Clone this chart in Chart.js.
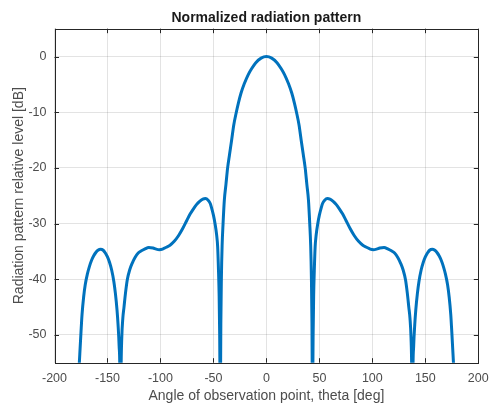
<!DOCTYPE html>
<html>
<head>
<meta charset="utf-8">
<script src="https://cdn.jsdelivr.net/npm/chart.js@4.4.1/dist/chart.umd.min.js"></script>
<style>
  html, body { margin: 0; padding: 0; background: #fff; }
  #wrap { width: 490px; height: 405px; }
</style>
</head>
<body>
<div id="wrap"><canvas id="myChart" width="490" height="405"></canvas></div>
<script>
// values (angle in deg, level in dB)
const thetaDeg = [
  -180, -178.5, -176.5, -175, -174, -172.5, -171, -169, -167, -165, -163, -161, -159, -156.5,
  -154, -152, -150, -148, -146, -144, -142.5, -141, -140, -139, -138.3, -137.8,
  -137.2, -136.5, -135.5, -134.4, -133, -131.3, -129, -126.6, -124, -121, -118, -115,
  -111, -107, -104, -101, -98, -95, -91, -87, -83, -79, -75, -72, -69, -66, -63, -60,
  -57.5, -55, -53, -52, -50, -48.5, -47, -46, -45.2, -44.6, -44.1, -43.8, -43.5,
  -43.2, -43, -42.5, -41.8, -40.9, -39.7, -38.2, -36.6, -34.8, -32.8, -30.8, -28.4, -26.5,
  -24, -20.9, -17, -14, -10, -5, 0,
  5, 10, 14, 17, 20.9, 24,
  26.5, 28.4, 30.8, 32.8, 34.8, 36.6, 38.2, 39.7, 40.9, 41.8, 42.5, 43, 43.2,
  43.5, 43.8, 44.1, 44.6, 45.2, 46, 47, 48.5, 50, 52, 53, 55, 57.5,
  60, 63, 66, 69, 72, 75, 79, 83, 87, 91, 95, 98, 101, 104, 107, 111,
  115, 118, 121, 124, 126.6, 129, 131.3, 133, 134.4, 135.5, 136.5, 137.2,
  137.8, 138.3, 139, 140, 141, 142.5, 144, 146, 148, 150, 152, 154,
  156.5, 159, 161, 163, 165, 167, 169, 171, 172.5, 174, 175, 176.5, 178.5, 180
];
const levelDb = [
  -75, -62, -54.8, -49.5, -46.3, -43.2, -41, -39.1, -37.7, -36.6, -35.8, -35.2, -34.8, -34.6,
  -34.8, -35.3, -36, -37, -38.4, -40.4, -42.6, -45.5, -48.2, -52, -57, -75,
  -57, -50.5, -47, -45, -42.5, -40.1, -38.3, -37.1, -36.1, -35.3, -34.9, -34.6,
  -34.3, -34.4, -34.6, -34.7, -34.6, -34.3, -33.9, -33.2, -32.2, -30.9, -29.4, -28.3, -27.4, -26.6, -26, -25.6,
  -25.5, -25.8, -26.4, -27, -28.5, -30, -32, -34.2, -38.5, -43, -50, -58, -75,
  -55, -48, -40, -34, -30, -25.8, -23, -20, -17.6, -15, -12.3, -10, -8.4,
  -6.6, -4.9, -3.2, -2.2, -1.1, -0.28, 0,
  -0.28, -1.1, -2.2, -3.2, -4.9, -6.6,
  -8.4, -10, -12.3, -15, -17.6, -20, -23, -25.8, -30, -34, -40, -48, -55,
  -75, -58, -50, -43, -38.5, -34.2, -32, -30, -28.5, -27, -26.4, -25.8, -25.5,
  -25.6, -26, -26.6, -27.4, -28.3, -29.4, -30.9, -32.2, -33.2, -33.9, -34.3, -34.6, -34.7, -34.6, -34.4, -34.3,
  -34.6, -34.9, -35.3, -36.1, -37.1, -38.3, -40.1, -42.5, -45, -47, -50.5, -57,
  -75, -57, -52, -48.2, -45.5, -42.6, -40.4, -38.4, -37, -36, -35.3, -34.8,
  -34.6, -34.8, -35.2, -35.8, -36.6, -37.7, -39.1, -41, -43.2, -46.3, -49.5, -54.8, -62, -75
];
const xTicks = [-200, -150, -100, -50, 0, 50, 100, 150, 200];
const yTicks = [-50, -40, -30, -20, -10, 0];

const points = thetaDeg.map((t, i) => ({ x: t, y: levelDb[i] }));

const fontFamily = "'Liberation Sans', Arial, Helvetica, sans-serif";
const axisColor = "#262626";
const textColor = "#4d4d4d";
const gridColor = "rgba(38,38,38,0.13)";

// box around the plot with inward ticks on all four sides (MATLAB look)
const boxTicks = {
  id: "boxTicks",
  afterDraw(chart) {
    const { ctx, chartArea: a, scales } = chart;
    const len = 4.5;
    ctx.save();
    ctx.strokeStyle = axisColor;
    ctx.lineWidth = 1;
    ctx.beginPath();
    xTicks.forEach((v) => {
      const px = Math.round(scales.x.getPixelForValue(v)) + 0.5;
      ctx.moveTo(px, a.bottom);
      ctx.lineTo(px, a.bottom - len);
      ctx.moveTo(px, a.top);
      ctx.lineTo(px, a.top + len);
    });
    yTicks.forEach((v) => {
      const py = Math.round(scales.y.getPixelForValue(v)) + 0.5;
      ctx.moveTo(a.left, py);
      ctx.lineTo(a.left + len, py);
      ctx.moveTo(a.right, py);
      ctx.lineTo(a.right - len, py);
    });
    ctx.stroke();
    ctx.strokeRect(
      Math.round(a.left) + 0.5,
      Math.round(a.top) + 0.5,
      Math.round(a.right) - Math.round(a.left),
      Math.round(a.bottom) - Math.round(a.top)
    );
    ctx.restore();
  },
};

const ctx = document.getElementById("myChart");

new Chart(ctx, {
  type: "line",
  data: {
    datasets: [
      {
        label: "pattern",
        data: points,
        borderColor: "#0072BD",
        borderWidth: 3,
        pointRadius: 0,
        cubicInterpolationMode: "monotone",
        fill: false,
        clip: 0,
      },
    ],
  },
  options: {
    responsive: false,
    animation: false,
    layout: { padding: { left: 0, right: 11.7, top: 0, bottom: 0 } },
    plugins: {
      legend: { display: false },
      tooltip: { enabled: false },
      title: {
        display: true,
        text: "Normalized radiation pattern",
        fullSize: false,
        color: "#1a1a1a",
        font: { family: fontFamily, size: 14, weight: "bold" },
        padding: { top: 9.6, bottom: 2.3 },
      },
    },
    scales: {
      x: {
        type: "linear",
        min: -200,
        max: 200,
        afterBuildTicks: (axis) => {
          axis.ticks = xTicks.map((v) => ({ value: v }));
        },
        afterFit: (scale) => {
          scale.height = 42.3;
          scale.paddingLeft = 0;
          scale.paddingRight = 0;
        },
        grid: { color: gridColor, drawTicks: false },
        border: { display: false },
        ticks: {
          color: textColor,
          padding: 8,
          maxRotation: 0,
          font: { family: fontFamily, size: 12.5 },
        },
        title: {
          display: true,
          text: "Angle of observation point, theta [deg]",
          color: textColor,
          font: { family: fontFamily, size: 14 },
          padding: { top: 0, bottom: 0 },
        },
      },
      y: {
        type: "linear",
        min: -55,
        max: 5,
        afterBuildTicks: (axis) => {
          axis.ticks = yTicks.map((v) => ({ value: v }));
        },
        afterFit: (scale) => {
          scale.width = 54.5;
          scale.paddingTop = 0;
          scale.paddingBottom = 0;
        },
        grid: { color: gridColor, drawTicks: false },
        border: { display: false },
        ticks: {
          color: textColor,
          padding: 8,
          font: { family: fontFamily, size: 12.5 },
        },
        title: {
          display: true,
          text: "Radiation pattern relative level [dB]",
          color: textColor,
          font: { family: fontFamily, size: 14 },
          padding: { top: 10.6, bottom: 0 },
        },
      },
    },
  },
  plugins: [boxTicks],
});
</script>
</body>
</html>
